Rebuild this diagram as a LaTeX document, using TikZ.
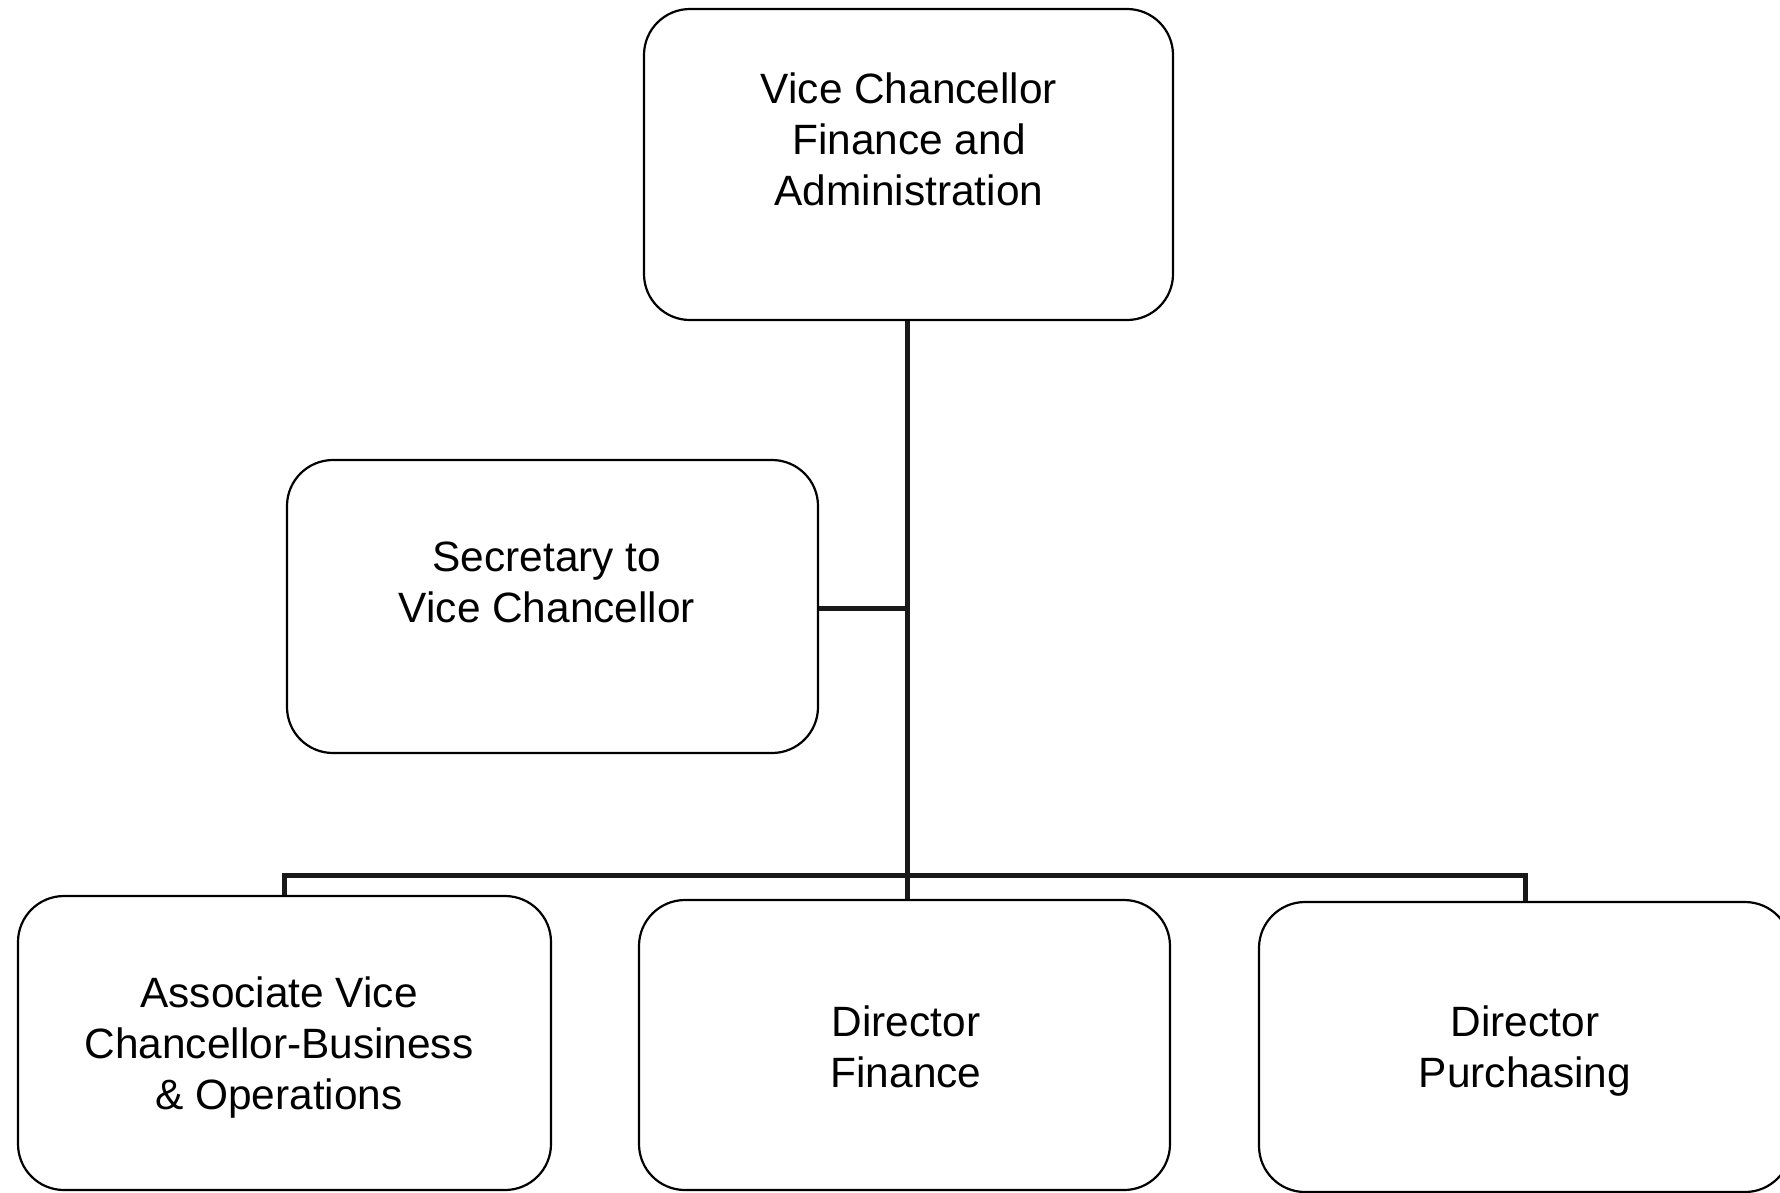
\documentclass[tikz,border=0pt]{standalone}
\usepackage{fontspec}
\setmainfont{Liberation Sans}
\begin{document}
\begin{tikzpicture}[x=1pt,y=-1pt,
  box/.style={draw=black, line width=2.2pt, rounded corners=46pt, fill=white, inner sep=0pt},
  lbl/.style={align=center, font=\fontsize{42.4}{51}\selectfont, inner sep=0pt},
  conn/.style={line width=5pt, draw=black!90}]
\useasboundingbox[fill=white] (0,0) rectangle (1780,1192);
% boxes
\node[box, minimum width=529pt, minimum height=311pt] (top) at (908.5,164.5) {};
\node[box, minimum width=531pt, minimum height=293pt] (sec) at (552.5,606.5) {};
\node[box, minimum width=533pt, minimum height=294pt] (avc) at (284.5,1043) {};
\node[box, minimum width=531pt, minimum height=290pt] (dfin) at (904.5,1045) {};
\node[box, minimum width=532pt, minimum height=290pt] (dpur) at (1525,1047) {};
% texts
\node[lbl] (topt) at (909,139) {Vice Chancellor\\Finance and\\Administration};
\node[lbl] (sect) at (547,582) {Secretary to\\Vice Chancellor};
\node[lbl] (avct) at (279,1048) {Associate Vice\\Chancellor-Business\\\& Operations};
\node[lbl] (dfint) at (906,1047) {Director\\Finance};
\node[lbl] (dpurt) at (1525,1051) {Director\\Purchasing};
% connectors
\coordinate (j) at (907,875);
\coordinate (js) at (907,608);
\draw[conn] (top.south -| j) -- (j);
\draw[conn] (sec.east |- js) -- (js);
\draw[conn] (avc.north) -- (avc.north |- j) -- (j) -- (dpur.north |- j) -- (dpur.north);
\draw[conn] (j) -- (dfin.north -| j);
\end{tikzpicture}
\end{document}
